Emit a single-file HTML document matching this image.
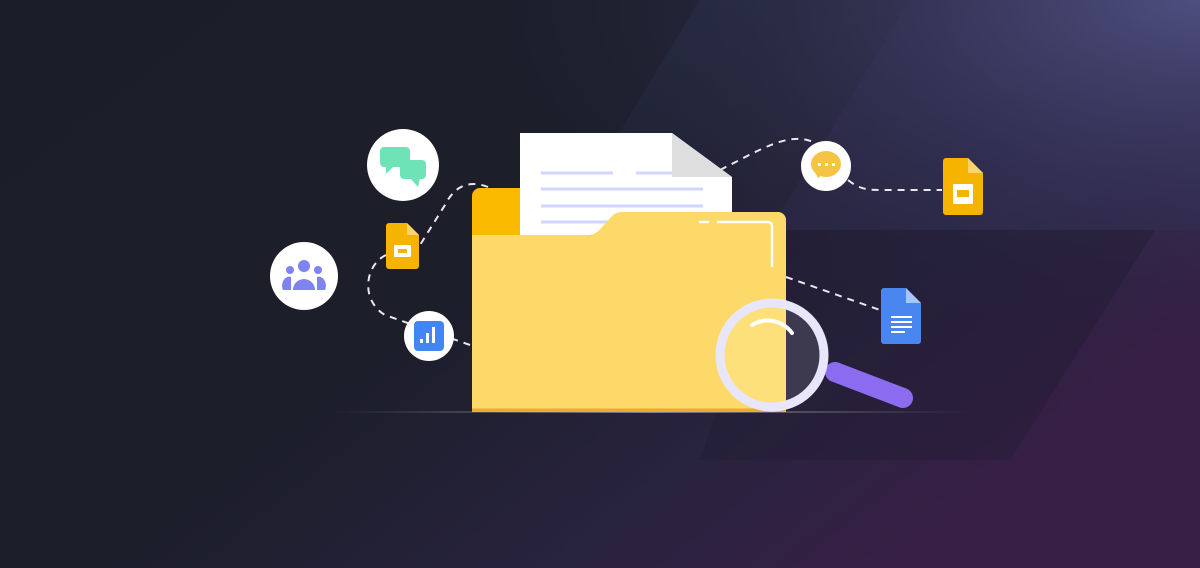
<!DOCTYPE html>
<html><head><style>html,body{margin:0;padding:0;background:#1b1e29;}svg{display:block}</style></head>
<body>
<svg width="1200" height="568" viewBox="0 0 1200 568" xmlns="http://www.w3.org/2000/svg">
<defs>
<linearGradient id="bg" x1="0" y1="0" x2="1" y2="0.6">
<stop offset="0" stop-color="#1b1e29"/><stop offset="0.5" stop-color="#1c1e2a"/><stop offset="0.78" stop-color="#28233e"/><stop offset="1" stop-color="#381f46"/>
</linearGradient>
<radialGradient id="tr" cx="1" cy="0" r="0.6">
<stop offset="0" stop-color="#55558a" stop-opacity="0.85"/><stop offset="1" stop-color="#2a2a48" stop-opacity="0"/>
</radialGradient>
<linearGradient id="band" x1="0" y1="0" x2="1" y2="1">
<stop offset="0" stop-color="#2c3a5c" stop-opacity="0.7"/><stop offset="1" stop-color="#241f36" stop-opacity="0.2"/>
</linearGradient>
<linearGradient id="floor" x1="0" x2="1"><stop offset="0" stop-color="#888" stop-opacity="0"/><stop offset="0.5" stop-color="#aaa" stop-opacity="0.7"/><stop offset="1" stop-color="#888" stop-opacity="0"/></linearGradient>
</defs>
<rect width="1200" height="568" fill="url(#bg)"/>
<polygon points="700,0 910,0 770,230 560,230" fill="url(#band)" opacity="0.55"/>
<polygon points="910,0 1200,0 1200,230 770,230" fill="#2e2d50" opacity="0.45"/>
<rect width="1200" height="568" fill="url(#tr)"/>
<polygon points="780,230 1155,230 1010,460 700,460" fill="#221c33" opacity="0.45"/>
<g fill="none" stroke="#e8e8f0" stroke-width="2" stroke-dasharray="7 6">
<path d="M488,187 C470,180 455,185 445,205 L420,245"/>
<path d="M386,255 C365,265 360,300 385,315 L470,345"/>
<path d="M720,170 C760,150 790,130 815,143"/>
<path d="M848,180 C860,190 870,190 880,190 L942,190"/>
<path d="M786,277 L880,310"/>
</g>
<circle cx="403" cy="165" r="36" fill="#fff"/>
<rect x="380" y="147" width="30" height="20" rx="4" fill="#6ee3b8"/>
<polygon points="386,166 394,166 386,174" fill="#6ee3b8"/>
<rect x="400" y="160" width="26" height="19" rx="4" fill="#6ee3b8"/>
<polygon points="410,178 420,178 418,187" fill="#6ee3b8"/>
<circle cx="304" cy="276" r="34" fill="#fff"/>
<g fill="#7d84f0"><circle cx="304" cy="266" r="6"/><circle cx="290" cy="270" r="4"/><circle cx="318" cy="270" r="4"/>
<path d="M293,290 a11,11 0 0 1 22,0z"/><path d="M283,290 a7,9 0 0 1 8,-13 l0,13z"/><path d="M325,290 a7,9 0 0 0 -8,-13 l0,13z"/></g>
<path d="M389,223 h18 l12,12 v31 a3,3 0 0 1 -3,3 h-27 a3,3 0 0 1 -3,-3 v-40 a3,3 0 0 1 3,-3z" fill="#f4b400"/>
<path d="M407,223 l12,12 h-12z" fill="#fbd56b"/>
<rect x="394" y="245" width="17" height="12" rx="1" fill="#fff"/><rect x="398" y="249" width="9" height="4" fill="#f4b400"/>
<circle cx="429" cy="336" r="25" fill="#fff"/>
<rect x="414" y="321" width="30" height="30" rx="4" fill="#4285f4"/>
<g fill="#fff"><rect x="420" y="339" width="3" height="4"/><rect x="426" y="333" width="3" height="10"/><rect x="432" y="327" width="3" height="16"/></g>
<rect x="472" y="188" width="60" height="224" rx="8" fill="#fbb900"/>
<path d="M520,133 h152 l60,44 v70 h-212z" fill="#fff"/>
<path d="M672,133 l60,44 h-60z" fill="#dedede"/>
<g stroke="#cfd5fb" stroke-width="3"><line x1="541" y1="173" x2="613" y2="173"/><line x1="636" y1="173" x2="672" y2="173"/><line x1="541" y1="189" x2="703" y2="189"/><line x1="541" y1="206" x2="703" y2="206"/><line x1="541" y1="222" x2="640" y2="222"/></g>
<path d="M472,412 V235 H588 q8,0 14,-8 L612,216 q4,-4 10,-4 H778 a8,8 0 0 1 8,8 V412z" fill="#fdd96a"/>
<line x1="472" y1="410" x2="786" y2="410" stroke="#f0a830" stroke-width="3"/>
<path d="M700,222 h8 M718,222 h50 a4,4 0 0 1 4,4 v40" fill="none" stroke="#fff" stroke-width="2.5" stroke-linecap="round"/>
<rect x="330" y="411" width="640" height="2" fill="url(#floor)"/>
<circle cx="826" cy="166" r="25" fill="#fff"/>
<ellipse cx="826" cy="164" rx="15" ry="13" fill="#f7c342"/>
<polygon points="814,170 818,178 822,175" fill="#f7c342"/>
<g fill="#fff"><rect x="818" y="163" width="3" height="3"/><rect x="825" y="163" width="3" height="3"/><rect x="832" y="163" width="3" height="3"/></g>
<path d="M946,158 h22 l15,15 v39 a3,3 0 0 1 -3,3 h-34 a3,3 0 0 1 -3,-3 v-51 a3,3 0 0 1 3,-3z" fill="#f4b400"/>
<path d="M968,158 l15,15 h-15z" fill="#fbd56b"/>
<rect x="953" y="184" width="20" height="20" rx="1" fill="#fff"/><rect x="957" y="190" width="12" height="7" fill="#f4b400"/>
<path d="M884,288 h22 l15,15 v38 a3,3 0 0 1 -3,3 h-34 a3,3 0 0 1 -3,-3 v-50 a3,3 0 0 1 3,-3z" fill="#4a86f0"/>
<path d="M906,288 l15,15 h-15z" fill="#a8c5fa"/>
<g stroke="#fff" stroke-width="2"><line x1="891" y1="317" x2="912" y2="317"/><line x1="891" y1="322" x2="912" y2="322"/><line x1="891" y1="327" x2="912" y2="327"/><line x1="891" y1="332" x2="905" y2="332"/></g>
<line x1="835" y1="372" x2="903" y2="398" stroke="#8b6cf0" stroke-width="20" stroke-linecap="round"/>
<clipPath id="lensL"><rect x="700" y="290" width="86" height="130"/></clipPath>
<circle cx="772" cy="355" r="52" fill="#3d3a4f"/>
<circle cx="772" cy="355" r="52" fill="#fde07a" clip-path="url(#lensL)"/>
<circle cx="772" cy="355" r="52" fill="none" stroke="#e8e6fa" stroke-width="9"/>
<path d="M752,325 a30,30 0 0 1 40,8" fill="none" stroke="#fff" stroke-width="4" stroke-linecap="round"/>
</svg>
</body></html>
